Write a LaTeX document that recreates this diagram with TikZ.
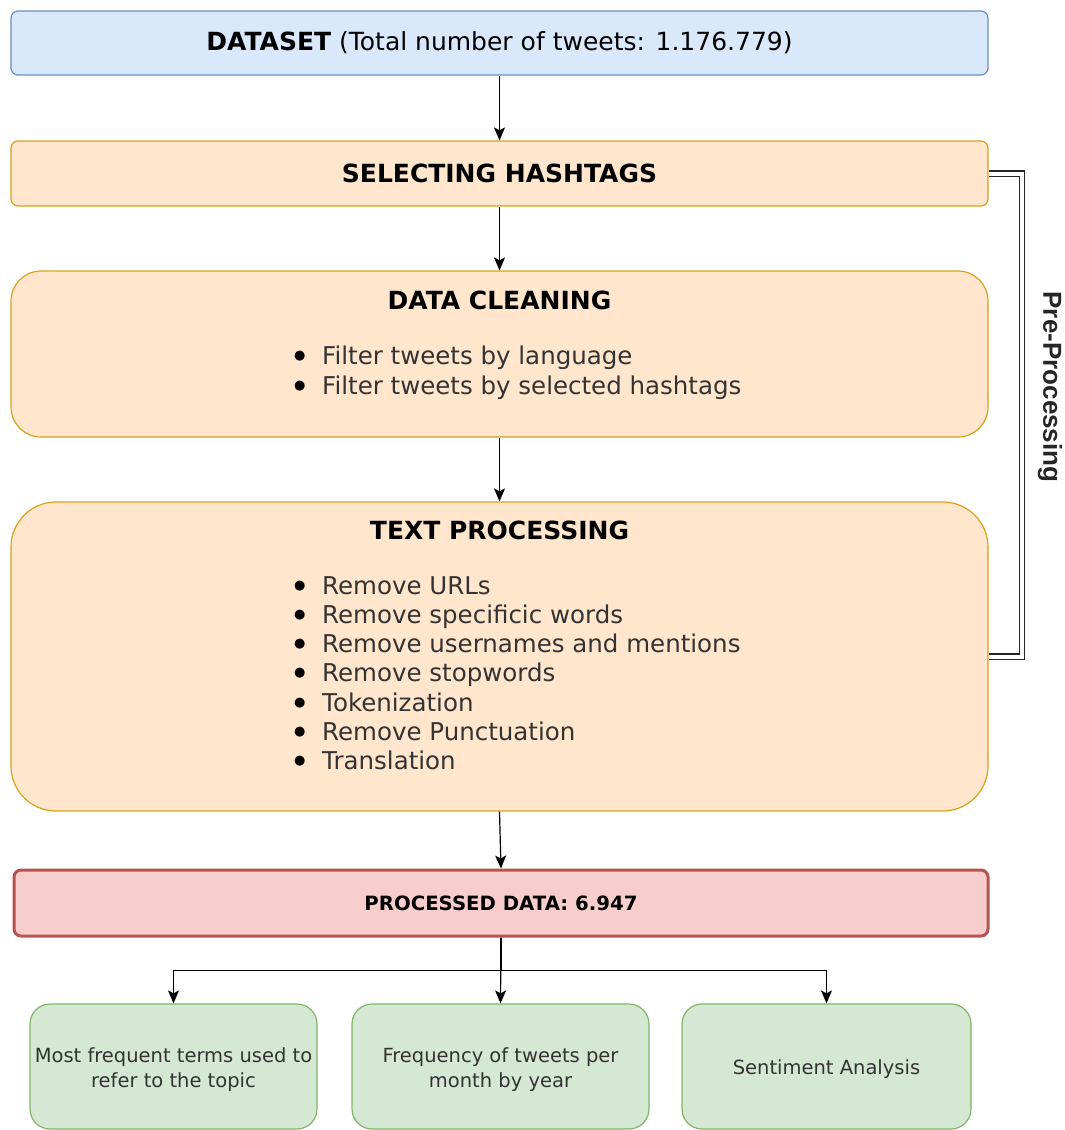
\documentclass[tikz,border=0pt]{standalone}
\usepackage{fontspec}
\setmainfont{DejaVu Sans}
\newfontfamily\lib{Liberation Sans}
\usetikzlibrary{arrows.meta}
\definecolor{bluefill}{HTML}{DAE8FC}
\definecolor{bluedraw}{HTML}{6C8EBF}
\definecolor{orfill}{HTML}{FFE6CC}
\definecolor{ordraw}{HTML}{D9A21B}
\definecolor{redfill}{HTML}{F8CECC}
\definecolor{reddraw}{HTML}{B85450}
\definecolor{grfill}{HTML}{D5E8D4}
\definecolor{grdraw}{HTML}{82B366}
\definecolor{bodytext}{HTML}{333333}
\tikzset{
  box/.style={draw, line width=1.2pt, inner sep=0pt, anchor=center},
  bluebox/.style={box, fill=bluefill, draw=bluedraw, rounded corners=7pt},
  orbox/.style={box, fill=orfill, draw=ordraw},
  redbox/.style={box, fill=redfill, draw=reddraw, line width=3pt, rounded corners=7pt},
  grbox/.style={box, fill=grfill, draw=grdraw, rounded corners=20pt},
  title/.style={font=\fontsize{25}{29}\selectfont\bfseries, inner sep=0pt, anchor=center},
  bullets/.style={font=\fontsize{24.5}{29.3}\selectfont, text=bodytext, align=left, inner sep=0pt, anchor=north west},
  small/.style={font=\fontsize{19.5}{25}\selectfont, text=bodytext, align=center, inner sep=0pt, anchor=center},
  arr/.style={-{Stealth[length=13pt,width=11pt,inset=3pt]}, line width=1.2pt},
}
\newcommand{\itm}[1]{\makebox[28pt][l]{\raisebox{5pt}{\color{black}\fontsize{13}{13}\selectfont ●}}#1}
\begin{document}
\begin{tikzpicture}[x=1pt,y=-1pt]
\useasboundingbox (0,0) rectangle (1065,1130);
\clip (0,0) rectangle (1065,1130);
% boxes
\node[bluebox, minimum width=977pt, minimum height=64pt] (ds) at (499.5,43) {};
\node[orbox, rounded corners=7pt, minimum width=977pt, minimum height=65pt] (hash) at (499.5,173.5) {};
\node[orbox, rounded corners=30pt, minimum width=977pt, minimum height=166pt] (clean) at (499.5,354) {};
\node[orbox, rounded corners=45pt, minimum width=977pt, minimum height=309pt] (text) at (499.5,656.5) {};
\node[redbox, minimum width=974pt, minimum height=66pt] (proc) at (501,903) {};
\node[grbox, minimum width=287pt, minimum height=125pt] (b1) at (173.5,1066.5) {};
\node[grbox, minimum width=297pt, minimum height=125pt] (b2) at (500.5,1066.5) {};
\node[grbox, minimum width=289pt, minimum height=125pt] (b3) at (826.5,1066.5) {};
% texts
\node[font=\fontsize{25}{29}\selectfont, inner sep=0pt, anchor=center] (dst) at (ds.center) {\textbf{DATASET} (Total number of tweets: 1.176.779)};
\node[title] (hasht) at (hash.center) {SELECTING HASHTAGS};
\node[title] (cleant) at (499.5,300) {DATA CLEANING};
\node[bullets] (cleanl) at (294,346) {\itm{Filter tweets by language}\\\itm{Filter tweets by selected hashtags}};
\node[title] (textt) at (499.5,530) {TEXT PROCESSING};
\node[bullets] (textl) at (294,576) {\itm{Remove URLs}\\\itm{Remove specificic words}\\\itm{Remove usernames and mentions}\\\itm{Remove stopwords}\\\itm{Tokenization}\\\itm{Remove Punctuation}\\\itm{Translation}};
\node[font=\fontsize{19.7}{24}\selectfont\bfseries, inner sep=0pt, anchor=center] (proct) at (proc.center) {PROCESSED DATA: 6.947};
\node[small] (b1t) at (173.5,1070) {Most frequent terms used to\\refer to the topic};
\node[small] (b2t) at (500.5,1070) {Frequency of tweets per\\month by year};
\node[small] (b3t) at (826.5,1069) {Sentiment Analysis};
\node[font=\lib\fontsize{26}{30}\selectfont\bfseries, text=black!85, rotate=-90, inner sep=0pt, anchor=center] (pre) at (1050,387) {Pre-Processing};
% connectors
\draw[arr] (ds.south) -- (hash.north);
\draw[arr] (hash.south) -- (clean.north);
\draw[arr] (clean.south) -- (text.north);
\draw[arr] (text.south) -- (proc.north);
\draw[arr] (proc.south) -- (b2.north);
\draw[arr] (proc.south) -- ++(0,33) -| (b1.north);
\draw[arr] (proc.south) -- ++(0,33) -| (b3.north);
\draw[double, double distance=4pt, line width=1.1pt, draw=black!85] (hash.east) -- ++(33,0) |- (text.east);
\end{tikzpicture}
\end{document}
